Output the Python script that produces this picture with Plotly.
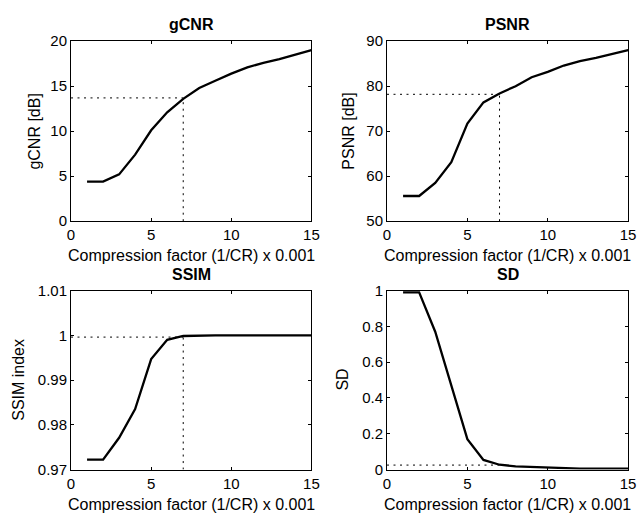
import plotly.graph_objects as go

# ---- data ----
compression_factor = [1, 2, 3, 4, 5, 6, 7, 8, 9, 10, 11, 12, 13, 14, 15]
gcnr_db = [4.4, 4.4, 5.2, 7.4, 10.1, 12.1, 13.6, 14.8, 15.6, 16.4, 17.1, 17.6, 18.0, 18.5, 19.0]
psnr_db = [55.6, 55.6, 58.5, 63.1, 71.7, 76.4, 78.4, 80.0, 82.0, 83.2, 84.6, 85.6, 86.3, 87.1, 88.0]
ssim_index = [0.9722, 0.9722, 0.9771, 0.9835, 0.9947, 0.9990, 0.99985, 1.0, 1.0, 1.0, 1.0, 1.0, 1.0, 1.0, 1.0]
sd_values = [0.99, 0.99, 0.77, 0.47, 0.17, 0.054, 0.027, 0.018, 0.014, 0.011, 0.007, 0.005, 0.005, 0.005, 0.005]

# reference (dotted) lines at the chosen compression factor
chosen_cf = 7
gcnr_ref = 13.7
psnr_ref = 78.2
ssim_ref = 0.9996
sd_ref = 0.025

titles = ["gCNR", "PSNR", "SSIM", "SD"]
y_titles = ["gCNR [dB]", "PSNR [dB]", "SSIM index", "SD"]
x_title = "Compression factor (1/CR) x 0.001"

x_ticks = [0, 5, 10, 15]
x_tick_text = ["0", "5", "10", "15"]
gcnr_ticks = [0, 5, 10, 15, 20]
gcnr_tick_text = ["0", "5", "10", "15", "20"]
psnr_ticks = [50, 60, 70, 80, 90]
psnr_tick_text = ["50", "60", "70", "80", "90"]
ssim_ticks = [0.97, 0.98, 0.99, 1.0, 1.01]
ssim_tick_text = ["0.97", "0.98", "0.99", "1", "1.01"]
sd_ticks = [0, 0.2, 0.4, 0.6, 0.8, 1.0]
sd_tick_text = ["0", "0.2", "0.4", "0.6", "0.8", "1"]

W, H = 642, 524
FONT = "Liberation Sans"

# panel pixel boxes: (left, right, top, bottom)
boxes = [(68.3, 313.3, 33.3, 219.3), (390.3, 636, 33.3, 219.3),
         (68.3, 313.3, 291, 476), (390.3, 636, 291, 476)]

fig = go.Figure()

series = [gcnr_db, psnr_db, ssim_index, sd_values]
yranges = [[0, 20], [50, 90], [0.97, 1.01], [0, 1]]
yticks = [(gcnr_ticks, gcnr_tick_text), (psnr_ticks, psnr_tick_text),
          (ssim_ticks, ssim_tick_text), (sd_ticks, sd_tick_text)]
refs = [gcnr_ref, psnr_ref, ssim_ref, sd_ref]
vert = [True, True, True, False]
DOT = "2px,4.5px"

for i in range(4):
    sfx = "" if i == 0 else str(i + 1)
    xa, ya = "x" + sfx, "y" + sfx
    lo = yranges[i][0]
    fig.add_trace(go.Scatter(x=[0, chosen_cf], y=[refs[i], refs[i]], mode="lines",
                             line=dict(color="black", width=1, dash=DOT),
                             xaxis=xa, yaxis=ya, showlegend=False, hoverinfo="skip"))
    if vert[i]:
        fig.add_trace(go.Scatter(x=[chosen_cf, chosen_cf], y=[lo, refs[i]], mode="lines",
                                 line=dict(color="black", width=1, dash=DOT),
                                 xaxis=xa, yaxis=ya, showlegend=False, hoverinfo="skip"))
    fig.add_trace(go.Scatter(x=compression_factor, y=series[i], mode="lines",
                             line=dict(color="black", width=2.3),
                             xaxis=xa, yaxis=ya, showlegend=False))

    l, r, t, b = boxes[i]
    axis_common = dict(showline=True, linecolor="black", linewidth=1, mirror="allticks",
                       ticks="inside", ticklen=3, tickcolor="black", showgrid=False,
                       zeroline=False, tickfont=dict(family=FONT, size=15, color="black"),
                       fixedrange=True, ticklabeloverflow="allow")
    fig.layout["xaxis" + sfx] = dict(domain=[l / W, r / W], range=[0, 15], anchor=ya,
                                     tickmode="array", tickvals=x_ticks, ticktext=x_tick_text,
                                     **axis_common)
    fig.layout["yaxis" + sfx] = dict(domain=[1 - b / H, 1 - t / H], range=yranges[i], anchor=xa,
                                     tickmode="array", tickvals=yticks[i][0], ticktext=yticks[i][1],
                                     **axis_common)
    cx = (l + r) / 2
    fig.add_annotation(x=cx / W, y=1 - (t - 6) / H, xref="paper", yref="paper",
                       text="<b>" + titles[i] + "</b>", showarrow=False,
                       xanchor="center", yanchor="bottom",
                       font=dict(family=FONT, size=16, color="black"))
    fig.add_annotation(x=cx / W, y=1 - (b + 25) / H, xref="paper", yref="paper",
                       text=x_title, showarrow=False, xanchor="center", yanchor="top",
                       font=dict(family=FONT, size=16, color="black"))

ytitle_x = [31, 351, 14, 345]
for i in range(4):
    l, r, t, b = boxes[i]
    fig.add_annotation(x=ytitle_x[i] / W, y=1 - ((t + b) / 2) / H, xref="paper", yref="paper",
                       text=y_titles[i], showarrow=False, textangle=-90,
                       xanchor="center", yanchor="middle",
                       font=dict(family=FONT, size=16, color="black"))

fig.update_layout(width=W, height=H, margin=dict(l=0, r=0, t=0, b=0),
                  paper_bgcolor="white", plot_bgcolor="white", showlegend=False)

fig.write_html("out.html", config={"displayModeBar": False},
               post_script="document.body.style.margin='0';document.body.style.overflow='hidden';")
